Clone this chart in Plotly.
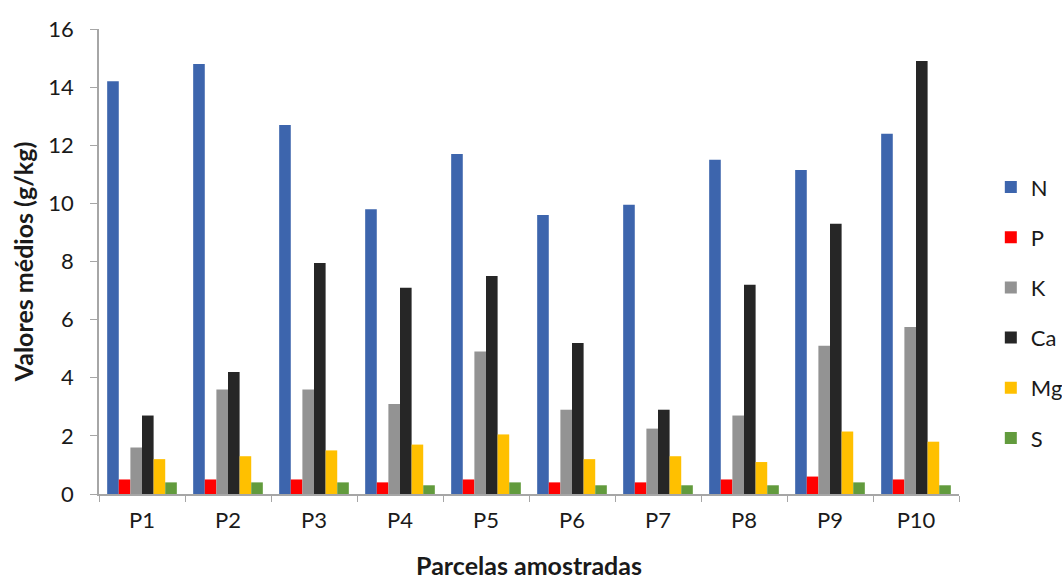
import plotly.graph_objects as go

parcelas = ["P1", "P2", "P3", "P4", "P5", "P6", "P7", "P8", "P9", "P10"]

N = [14.2, 14.8, 12.7, 9.8, 11.7, 9.6, 9.95, 11.5, 11.15, 12.4]
P = [0.5, 0.5, 0.5, 0.4, 0.5, 0.4, 0.4, 0.5, 0.6, 0.5]
K = [1.6, 3.6, 3.6, 3.1, 4.9, 2.9, 2.25, 2.7, 5.1, 5.75]
Ca = [2.7, 4.2, 7.95, 7.1, 7.5, 5.2, 2.9, 7.2, 9.3, 14.9]
Mg = [1.2, 1.3, 1.5, 1.7, 2.05, 1.2, 1.3, 1.1, 2.15, 1.8]
S = [0.4, 0.4, 0.4, 0.3, 0.4, 0.3, 0.3, 0.3, 0.4, 0.3]

series = [
    ("N", N, "#3D65AD"),
    ("P", P, "#FF0000"),
    ("K", K, "#939393"),
    ("Ca", Ca, "#262626"),
    ("Mg", Mg, "#FFC000"),
    ("S", S, "#629B3D"),
]

font_family = "Lato, 'Open Sans', sans-serif"
text_color = "#1a1a1a"

fig = go.Figure()
for name, values, color in series:
    fig.add_trace(go.Bar(
        name=name,
        x=parcelas,
        y=values,
        marker=dict(color=color, line=dict(width=0)),
        legendgroup=name,
    ))

fig.update_layout(
    width=1062,
    height=581,
    barmode="group",
    bargap=0.19,
    bargroupgap=0,
    plot_bgcolor="white",
    paper_bgcolor="white",
    margin=dict(l=99, r=103, t=29, b=87, autoexpand=False),
    font=dict(family=font_family, color=text_color),
    legend=dict(
        x=1.037, y=0.705, xanchor="left", yanchor="top",
        font=dict(size=22, color=text_color),
        tracegroupgap=18.6,
        itemwidth=30,
    ),
    xaxis=dict(
        title=dict(text="<b>Parcelas amostradas</b>", font=dict(size=25), standoff=25),
        tickfont=dict(size=22),
        ticklabelstandoff=6,
        automargin=False,
        showline=True, linecolor="#a6a6a6", linewidth=1.5,
        ticks="outside", tickson="boundaries", ticklen=6, tickcolor="#a6a6a6",
        showgrid=False,
    ),
    yaxis=dict(
        title=dict(text="<b>Valores médios (g/kg)</b>", font=dict(size=25), standoff=8),
        range=[0, 16],
        dtick=2,
        tickfont=dict(size=22),
        ticklabelstandoff=12,
        automargin=False,
        showline=True, linecolor="#a6a6a6", linewidth=1.5,
        ticks="outside", ticklen=7, tickcolor="#a6a6a6",
        showgrid=False, zeroline=False,
    ),
)

fig.write_html("out.html")
